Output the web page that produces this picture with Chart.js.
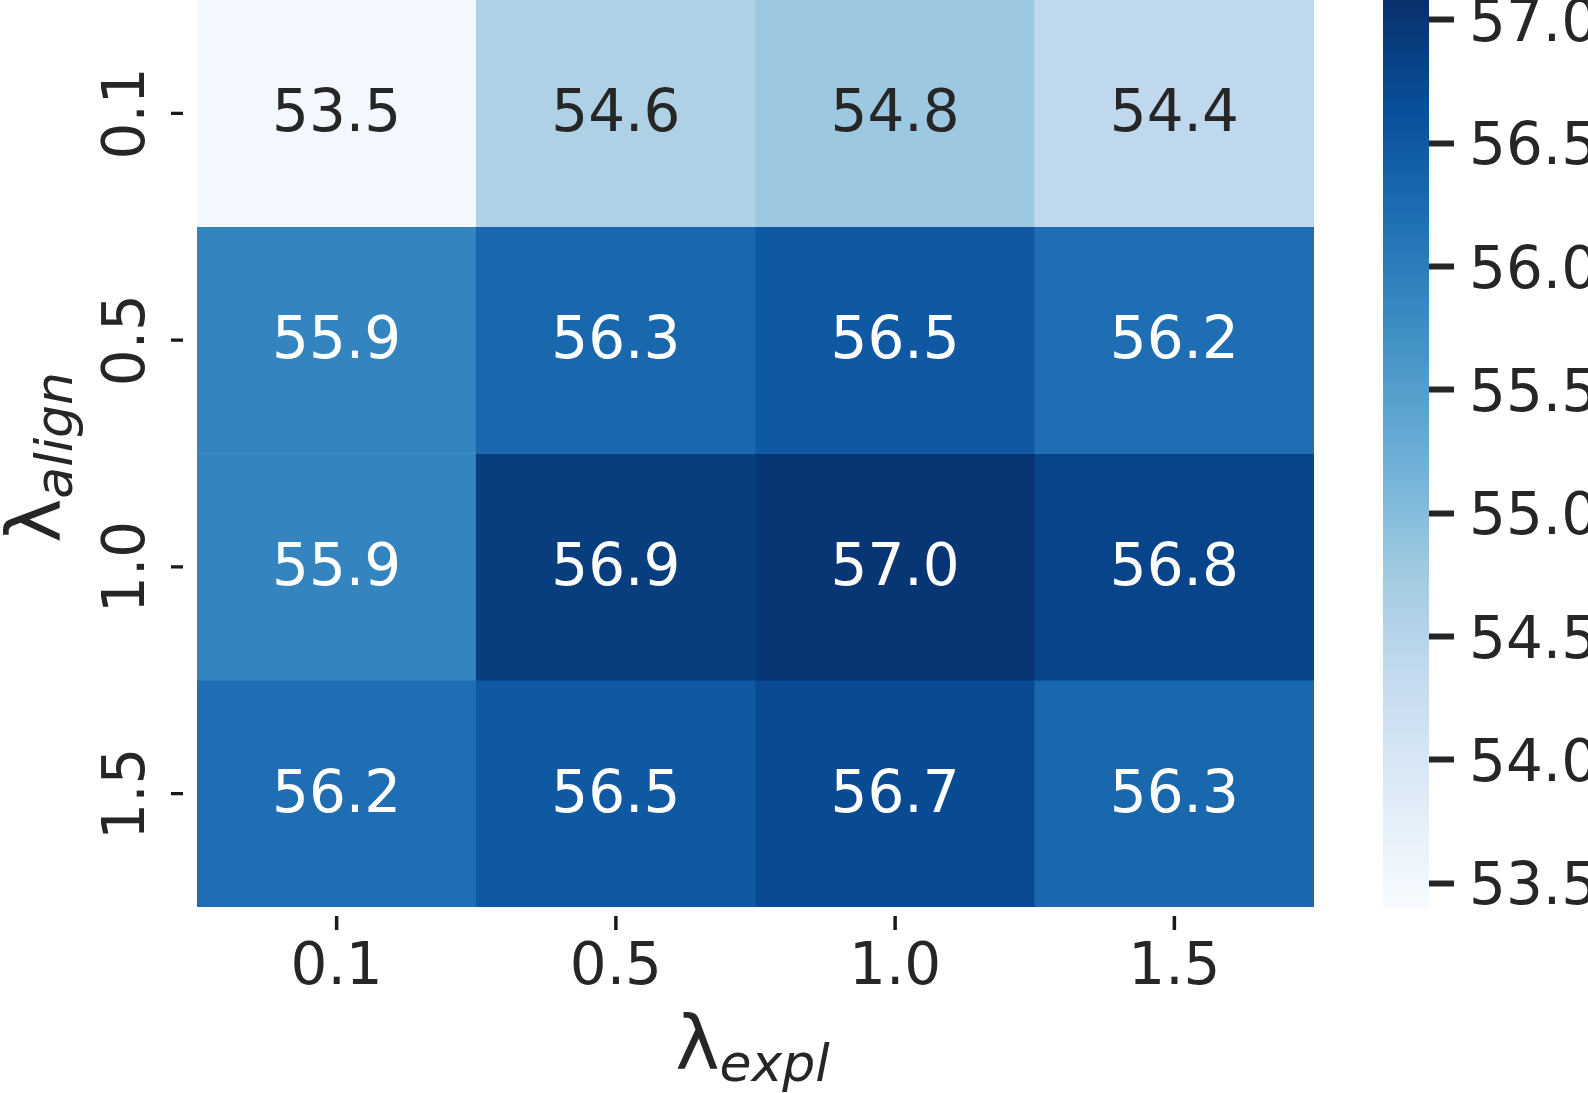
<!DOCTYPE html>
<html><head><meta charset="utf-8">
<script src="https://cdn.jsdelivr.net/npm/chart.js@4.4.1/dist/chart.umd.min.js"></script>
<style>
html,body{margin:0;padding:0;background:#fff;}
body{width:1588px;height:1093px;position:relative;overflow:hidden;}
#heat{position:absolute;left:0;top:0;}
#cbar{position:absolute;left:1383px;top:0;}
</style></head><body>
<canvas id="heat" width="1314" height="1093"></canvas>
<canvas id="cbar" width="205" height="1093"></canvas>
<script>
// ---- data ----
const xLabels = ['0.1', '0.5', '1.0', '1.5'];   // lambda_expl
const yLabels = ['0.1', '0.5', '1.0', '1.5'];   // lambda_align
const row01 = [53.5, 54.6, 54.8, 54.4];
const row05 = [55.9, 56.3, 56.5, 56.2];
const row10 = [55.9, 56.9, 57.0, 56.8];
const row15 = [56.2, 56.5, 56.7, 56.3];
const rows = [row01, row05, row10, row15];
const cbarMin = 53.40;
const cbarMax = 57.08;
const cbarTicks = [53.5, 54.0, 54.5, 55.0, 55.5, 56.0, 56.5, 57.0];

// ---- style ----
const FONT = '"DejaVu Sans"';
const TEXT = '#262626';
const BLUES = ['#f7fbff','#deebf7','#c6dbef','#9ecae1','#6baed6','#4292c6','#2171b5','#08519c','#08306b'];

function hex2rgb(h){return [parseInt(h.slice(1,3),16),parseInt(h.slice(3,5),16),parseInt(h.slice(5,7),16)];}
function blues(t){
  t = Math.max(0, Math.min(1, t));
  const p = t * (BLUES.length - 1);
  const i = Math.min(Math.floor(p), BLUES.length - 2);
  const f = p - i;
  const a = hex2rgb(BLUES[i]), b = hex2rgb(BLUES[i+1]);
  return a.map((v,k)=>Math.round(v + (b[k]-v)*f));
}
function colorFor(v){
  const c = blues((v - cbarMin) / (cbarMax - cbarMin));
  return 'rgb(' + c.join(',') + ')';
}
function textColorFor(v){
  const c = blues((v - cbarMin) / (cbarMax - cbarMin)).map(x=>{
    x /= 255; return x <= 0.03928 ? x/12.92 : Math.pow((x+0.055)/1.055, 2.4);
  });
  const lum = 0.2126*c[0] + 0.7152*c[1] + 0.0722*c[2];
  return lum > 0.408 ? TEXT : '#ffffff';
}

const datasets = rows.map((vals, r) => ({
  label: yLabels[r],
  data: vals.map(() => [r, r + 1]),
  backgroundColor: vals.map(colorFor),
  borderWidth: 0,
  grouped: false,
  barPercentage: 1,
  categoryPercentage: 1
}));

function drawLambdaLabel(ctx, sub, x, y, rotate){
  ctx.save();
  const mainFont = '75px ' + FONT;
  const subFont = 'italic 52px ' + FONT;
  ctx.font = mainFont; const w1 = ctx.measureText('λ').width;
  ctx.font = subFont; const w2 = ctx.measureText(sub).width;
  const total = w1 + w2;
  ctx.translate(x, y);
  if (rotate) ctx.rotate(-Math.PI/2);
  ctx.fillStyle = TEXT;
  ctx.textBaseline = 'alphabetic';
  ctx.textAlign = 'left';
  ctx.font = mainFont; ctx.fillText('λ', -total/2, 0);
  ctx.font = subFont; ctx.fillText(sub, -total/2 + w1, 12);
  ctx.restore();
}

const heatDecor = {
  id: 'heatDecor',
  afterDatasetsDraw(chart){
    const ctx = chart.ctx;
    ctx.save();
    ctx.font = '58px ' + FONT;
    ctx.textAlign = 'center';
    ctx.textBaseline = 'alphabetic';
    chart.data.datasets.forEach((ds, di) => {
      const meta = chart.getDatasetMeta(di);
      meta.data.forEach((bar, ci) => {
        const v = rows[di][ci];
        const cy = (bar.y + bar.base) / 2;
        ctx.fillStyle = textColorFor(v);
        ctx.fillText(v.toFixed(1), bar.x, cy + 18);
      });
    });
    ctx.restore();
  },
  afterDraw(chart){
    const ctx = chart.ctx;
    const xs = chart.scales.x, ys = chart.scales.y;
    const area = chart.chartArea;
    ctx.save();
    ctx.strokeStyle = '#1a1a1a';
    // x tick marks
    ctx.lineWidth = 3.5;
    xLabels.forEach((l, i) => {
      const px = xs.getPixelForValue(i);
      ctx.beginPath(); ctx.moveTo(px, area.bottom + 9); ctx.lineTo(px, area.bottom + 23); ctx.stroke();
    });
    // y tick marks + rotated labels
    yLabels.forEach((l, r) => {
      const py = ys.getPixelForValue(r + 0.5);
      ctx.lineWidth = 3.3;
      ctx.beginPath(); ctx.moveTo(area.left - 26, py); ctx.lineTo(area.left - 14, py); ctx.stroke();
      ctx.save();
      ctx.translate(144, py);
      ctx.rotate(-Math.PI/2);
      ctx.font = '58px ' + FONT;
      ctx.fillStyle = TEXT;
      ctx.textAlign = 'center';
      ctx.textBaseline = 'alphabetic';
      ctx.fillText(l, 0, 0);
      ctx.restore();
    });
    ctx.restore();
    // axis titles
    drawLambdaLabel(ctx, 'expl', (area.left + area.right)/2 - 3, 1069, false);
    drawLambdaLabel(ctx, 'align', 60, (area.top + area.bottom)/2 + 4, true);
  }
};

new Chart(document.getElementById('heat'), {
  type: 'bar',
  data: { labels: xLabels, datasets: datasets },
  options: {
    responsive: false,
    animation: false,
    layout: { padding: 0 },
    plugins: { legend: { display: false }, tooltip: { enabled: false } },
    scales: {
      x: {
        type: 'category',
        offset: true,
        grid: { display: false, drawTicks: false },
        border: { display: false },
        ticks: { font: { family: 'DejaVu Sans', size: 58 }, color: TEXT, padding: 27, maxRotation: 0 },
        afterFit(s){ s.height = 186; s.paddingLeft = 0; s.paddingRight = 0; }
      },
      y: {
        type: 'linear',
        min: 0, max: 4,
        reverse: true,
        ticks: { display: false },
        grid: { display: false, drawTicks: false },
        border: { display: false },
        afterFit(s){ s.width = 197; s.paddingTop = 0; s.paddingBottom = 0; }
      }
    }
  },
  plugins: [heatDecor]
});

new Chart(document.getElementById('cbar'), {
  type: 'bar',
  data: {
    labels: [''],
    datasets: [{
      data: [[cbarMin, cbarMax]],
      backgroundColor(c){
        const chart = c.chart;
        if (!chart.chartArea) return BLUES[4];
        const y = chart.scales.y;
        const g = chart.ctx.createLinearGradient(0, y.getPixelForValue(cbarMin), 0, y.getPixelForValue(cbarMax));
        BLUES.forEach((col, i) => g.addColorStop(i/(BLUES.length-1), col));
        return g;
      },
      borderWidth: 0,
      barPercentage: 1,
      categoryPercentage: 1
    }]
  },
  options: {
    responsive: false,
    animation: false,
    layout: { padding: { top: 0, bottom: 185, left: 0, right: 0 } },
    plugins: { legend: { display: false }, tooltip: { enabled: false } },
    scales: {
      x: { display: false },
      y: {
        type: 'linear',
        position: 'right',
        min: cbarMin, max: cbarMax,
        afterBuildTicks(s){ s.ticks = cbarTicks.map(v => ({ value: v })); },
        ticks: {
          // empty first line nudges the label down slightly (lineHeight 12px -> +6px)
          callback: v => ['', Number(v).toFixed(1)],
          font: { family: 'DejaVu Sans', size: 58, lineHeight: '12px' },
          color: TEXT,
          padding: 15
        },
        grid: { drawOnChartArea: false, tickLength: 25, tickWidth: 6, tickColor: TEXT },
        border: { display: false },
        afterFit(s){ s.width = 159; s.paddingTop = 0; s.paddingBottom = 0; }
      }
    }
  }
});
</script>
</body></html>
